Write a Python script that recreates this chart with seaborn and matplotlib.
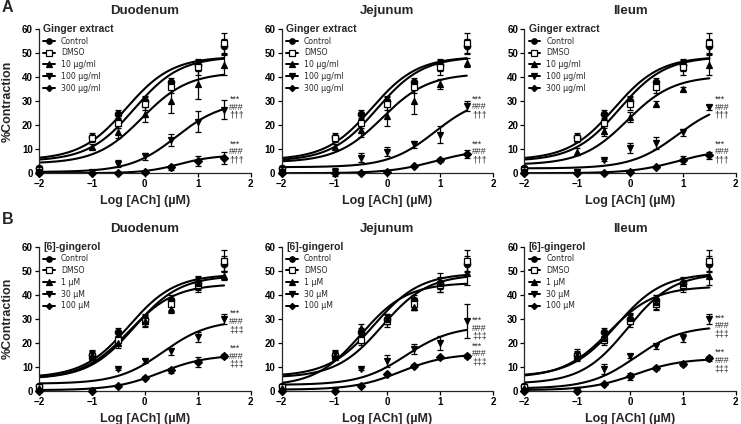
import numpy as np
import pandas as pd
import matplotlib
matplotlib.use("Agg")
import matplotlib.pyplot as plt
from matplotlib.lines import Line2D
import seaborn as sns

# ---------------- data ----------------
LOG_ACH = [-2, -1, -0.5, 0, 0.5, 1, 1.5]
X_TICKS = [-2, -1, 0, 1, 2]
Y_TICKS = [0, 10, 20, 30, 40, 50, 60]
TISSUES = ["Duodenum", "Jejunum", "Ileum"]
GINGER_LABELS = ["Control", "DMSO", "10 µg/ml", "100 µg/ml", "300 µg/ml"]
GINGEROL_LABELS = ["Control", "DMSO", "1 µM", "30 µM", "100 µM"]
ROW_TITLES = ["Ginger extract", "[6]-gingerol"]
ROW_LETTERS = ["A", "B"]
SIG_GINGER = "***\n###\n†††"
SIG_GINGEROL = "***\n###\n‡‡‡"

control_mean = [2.0, 15.0, 24.5, 30.0, 38.0, 45.0, 53.0]
control_sem = [0.8, 1.8, 1.8, 2.0, 1.8, 2.5, 3.0]
dmso_mean = [1.5, 14.5, 21.0, 29.0, 36.0, 44.0, 54.0]
dmso_sem = [0.8, 1.5, 2.0, 2.5, 2.5, 3.0, 4.5]

# Ginger extract - duodenum
ge_duo_10 = [1.0, 11.0, 17.0, 24.5, 30.0, 37.0, 45.0]
ge_duo_10_sem = [0.5, 1.0, 2.5, 3.0, 5.0, 6.0, 4.0]
ge_duo_100 = [0.5, 0.3, 4.0, 7.0, 14.0, 21.5, 26.5]
ge_duo_100_sem = [0.3, 0.3, 1.5, 1.5, 2.5, 4.5, 4.0]
ge_duo_300 = [0.0, 0.0, 0.0, 0.3, 2.5, 5.0, 6.5]
ge_duo_300_sem = [0.2, 0.2, 0.3, 0.5, 1.0, 2.0, 2.5]
ge_duo_bottom = [5.5, 5.0, 4.0, 0.5, 0.0]
ge_duo_top = [48.5, 48.5, 42.0, 30.0, 7.5]
ge_duo_logec50 = [-0.35, -0.2, -0.05, 0.6, 0.65]
ge_duo_hill = [1.0, 1.0, 1.0, 1.0, 1.3]

# Ginger extract - jejunum
ge_jej_10 = [1.5, 11.0, 18.0, 24.0, 30.0, 37.0, 46.0]
ge_jej_10_sem = [0.5, 1.0, 3.0, 4.5, 5.5, 2.0, 2.0]
ge_jej_100 = [0.5, 0.5, 6.5, 9.0, 12.0, 16.0, 28.0]
ge_jej_100_sem = [0.3, 1.5, 2.0, 2.0, 1.5, 3.5, 2.0]
ge_jej_300 = [0.0, 0.0, 0.0, 0.5, 3.0, 5.5, 8.0]
ge_jej_300_sem = [0.2, 0.2, 0.2, 0.5, 0.5, 1.0, 1.5]
ge_jej_bottom = [5.5, 5.0, 4.5, 2.5, 0.0]
ge_jej_top = [48.5, 48.5, 41.5, 32.0, 10.0]
ge_jej_logec50 = [-0.3, -0.2, -0.1, 0.9, 0.9]
ge_jej_hill = [1.0, 1.0, 1.0, 1.0, 1.0]

# Ginger extract - ileum
ge_ile_10 = [1.0, 9.0, 17.5, 23.5, 29.0, 35.0, 45.0]
ge_ile_10_sem = [0.5, 1.5, 2.0, 2.0, 1.0, 1.0, 4.0]
ge_ile_100 = [0.5, 0.5, 5.5, 10.5, 12.5, 17.0, 27.5]
ge_ile_100_sem = [0.3, 1.0, 0.5, 2.0, 2.5, 1.5, 1.0]
ge_ile_300 = [0.0, 0.0, 0.0, 0.5, 2.5, 5.5, 7.5]
ge_ile_300_sem = [0.2, 0.2, 0.2, 0.5, 0.5, 1.5, 1.5]
ge_ile_bottom = [5.5, 5.0, 3.5, 2.0, 0.0]
ge_ile_top = [48.5, 48.5, 40.5, 30.0, 10.0]
ge_ile_logec50 = [-0.3, -0.2, -0.05, 0.9, 0.9]
ge_ile_hill = [1.0, 1.0, 1.0, 1.0, 1.0]

# [6]-gingerol - duodenum
g_duo_1 = [1.0, 15.0, 20.0, 29.0, 34.0, 45.0, 48.0]
g_duo_1_sem = [0.5, 2.0, 2.0, 2.0, 1.5, 3.0, 2.0]
g_duo_30 = [0.0, 0.0, 9.0, 12.5, 16.5, 22.5, 30.0]
g_duo_30_sem = [0.3, 0.3, 0.5, 0.8, 1.5, 2.0, 2.0]
g_duo_100 = [0.0, 0.0, 2.0, 5.5, 8.5, 12.0, 14.5]
g_duo_100_sem = [0.2, 0.2, 0.3, 0.5, 1.0, 2.0, 1.0]
g_duo_bottom = [5.5, 5.0, 5.0, 3.0, 0.3]
g_duo_top = [48.5, 48.0, 44.5, 29.5, 15.0]
g_duo_logec50 = [-0.3, -0.2, -0.3, 0.35, 0.3]
g_duo_hill = [1.0, 1.0, 1.0, 1.0, 1.0]

# [6]-gingerol - jejunum
g_jej_1 = [1.0, 15.0, 26.0, 30.0, 35.0, 45.0, 49.0]
g_jej_1_sem = [0.5, 2.0, 2.0, 2.0, 1.5, 4.0, 5.0]
g_jej_30 = [0.0, 0.5, 9.0, 12.5, 17.5, 20.0, 29.0]
g_jej_30_sem = [0.3, 0.5, 0.5, 2.5, 2.0, 3.0, 7.0]
g_jej_100 = [0.0, 0.0, 2.0, 7.0, 10.5, 14.0, 14.5]
g_jej_100_sem = [0.2, 0.2, 0.3, 0.5, 0.5, 0.5, 0.8]
g_jej_bottom = [6.0, 5.5, 2.0, 2.5, 0.5]
g_jej_top = [49.0, 48.5, 45.0, 27.0, 15.5]
g_jej_logec50 = [-0.25, -0.1, -0.5, 0.35, 0.25]
g_jej_hill = [1.0, 1.0, 1.0, 1.0, 1.0]

# [6]-gingerol - ileum
g_ile_1 = [1.0, 15.0, 22.0, 30.5, 37.0, 45.0, 48.0]
g_ile_1_sem = [0.5, 2.5, 2.0, 2.0, 3.0, 2.0, 4.0]
g_ile_30 = [0.0, 0.5, 9.0, 14.5, 18.5, 22.0, 30.0]
g_ile_30_sem = [0.3, 0.3, 2.0, 1.0, 1.0, 1.5, 2.0]
g_ile_100 = [0.0, 0.0, 3.0, 6.0, 9.5, 11.0, 13.5]
g_ile_100_sem = [0.2, 0.2, 0.3, 1.5, 1.0, 0.5, 1.0]
g_ile_bottom = [6.0, 3.0, 5.5, 1.0, 0.3]
g_ile_top = [49.0, 49.0, 43.5, 27.0, 13.5]
g_ile_logec50 = [-0.25, -0.05, -0.4, 0.1, 0.1]
g_ile_hill = [1.0, 1.0, 1.0, 1.0, 1.0]

# y of the middle line of the significance labels (upper, lower) per panel
sig_y_ginger = [[27.4, 8.9], [27.6, 8.9], [27.4, 8.9]]
sig_y_gingerol = [[28.8, 14.5], [26.0, 15.4], [27.1, 12.6]]

# ---------------- assemble ----------------
panels = [
    [  # row A
        dict(means=[control_mean, dmso_mean, ge_duo_10, ge_duo_100, ge_duo_300],
             sems=[control_sem, dmso_sem, ge_duo_10_sem, ge_duo_100_sem, ge_duo_300_sem],
             fit=(ge_duo_bottom, ge_duo_top, ge_duo_logec50, ge_duo_hill)),
        dict(means=[control_mean, dmso_mean, ge_jej_10, ge_jej_100, ge_jej_300],
             sems=[control_sem, dmso_sem, ge_jej_10_sem, ge_jej_100_sem, ge_jej_300_sem],
             fit=(ge_jej_bottom, ge_jej_top, ge_jej_logec50, ge_jej_hill)),
        dict(means=[control_mean, dmso_mean, ge_ile_10, ge_ile_100, ge_ile_300],
             sems=[control_sem, dmso_sem, ge_ile_10_sem, ge_ile_100_sem, ge_ile_300_sem],
             fit=(ge_ile_bottom, ge_ile_top, ge_ile_logec50, ge_ile_hill)),
    ],
    [  # row B
        dict(means=[control_mean, dmso_mean, g_duo_1, g_duo_30, g_duo_100],
             sems=[control_sem, dmso_sem, g_duo_1_sem, g_duo_30_sem, g_duo_100_sem],
             fit=(g_duo_bottom, g_duo_top, g_duo_logec50, g_duo_hill)),
        dict(means=[control_mean, dmso_mean, g_jej_1, g_jej_30, g_jej_100],
             sems=[control_sem, dmso_sem, g_jej_1_sem, g_jej_30_sem, g_jej_100_sem],
             fit=(g_jej_bottom, g_jej_top, g_jej_logec50, g_jej_hill)),
        dict(means=[control_mean, dmso_mean, g_ile_1, g_ile_30, g_ile_100],
             sems=[control_sem, dmso_sem, g_ile_1_sem, g_ile_30_sem, g_ile_100_sem],
             fit=(g_ile_bottom, g_ile_top, g_ile_logec50, g_ile_hill)),
    ],
]
row_labels = [GINGER_LABELS, GINGEROL_LABELS]
row_sig = [SIG_GINGER, SIG_GINGEROL]
row_sig_y = [sig_y_ginger, sig_y_gingerol]

# ---------------- style ----------------
sns.set_theme(style="ticks")
plt.rcParams["font.family"] = ["Liberation Sans", "DejaVu Sans"]
plt.rcParams["axes.linewidth"] = 0.9

MARKERS = ["o", "s", "^", "v", "D"]
MSIZES = [4.6, 4.6, 4.8, 4.8, 3.7]
FACES = ["black", "white", "black", "black", "black"]

W, H = 741, 424
fig = plt.figure(figsize=(W / 100, H / 100), dpi=100)

col_left_px = [39, 281.7, 524.3]
ax_w_px = 211.5
row_top_px = [29, 246.7]
ax_h_px = 144.2

xgrid = np.linspace(-2, 1.5, 200)

for r in range(2):
    for c in range(3):
        left = col_left_px[c] / W
        bottom = 1 - (row_top_px[r] + ax_h_px) / H
        ax = fig.add_axes([left, bottom, ax_w_px / W, ax_h_px / H])
        p = panels[r][c]
        bots, tops, ecs, hills = p["fit"]
        for i in range(5):
            yfit = bots[i] + (tops[i] - bots[i]) / (
                1 + 10 ** ((ecs[i] - xgrid) * hills[i]))
            df = pd.DataFrame({"x": xgrid, "y": yfit})
            sns.lineplot(data=df, x="x", y="y", ax=ax, color="black",
                         linewidth=1.5, legend=False, zorder=2)
        for i in range(5):
            ax.errorbar(LOG_ACH, p["means"][i], yerr=p["sems"][i], fmt="none",
                        ecolor="black", elinewidth=0.9, capsize=2.4,
                        capthick=0.9, zorder=3, clip_on=False)
            ax.plot(LOG_ACH, p["means"][i], linestyle="none",
                    marker=MARKERS[i], markersize=MSIZES[i],
                    markerfacecolor=FACES[i], markeredgecolor="black",
                    markeredgewidth=0.9, zorder=4, clip_on=False)
        ax.set_xlim(-2, 2)
        ax.set_ylim(0, 60)
        ax.set_xticks(X_TICKS)
        ax.set_yticks(Y_TICKS)
        ax.tick_params(axis="both", direction="out", length=3, width=0.9,
                       labelsize=7, pad=1.5, colors="black")
        for lab in ax.get_xticklabels() + ax.get_yticklabels():
            lab.set_fontweight("bold")
        sns.despine(ax=ax)
        ax.set_xlabel("Log [ACh] (µM)", fontsize=9, fontweight="bold",
                      labelpad=4)
        if c == 0:
            ax.set_ylabel("%Contraction", fontsize=9, fontweight="bold",
                          labelpad=6)
        else:
            ax.set_ylabel("")
        ax.text(0.5, 1 + 18 / ax_h_px, TISSUES[c], transform=ax.transAxes,
                ha="center", va="center", fontsize=9.5, fontweight="bold")

        handles = [Line2D([0], [0], color="black", lw=1.4, marker=MARKERS[i],
                          markersize=MSIZES[i] * 0.85,
                          markerfacecolor=FACES[i], markeredgecolor="black",
                          markeredgewidth=0.9)
                   for i in range(5)]
        ax.legend(handles, row_labels[r], title=ROW_TITLES[r],
                  loc="upper left", bbox_to_anchor=(0.02, 1.035),
                  frameon=False, borderpad=0, borderaxespad=0,
                  handlelength=1.5, handletextpad=0.8,
                  labelspacing=0.35,
                  prop={"family": "DejaVu Sans", "size": 5.6},
                  title_fontproperties={"family": "Liberation Sans",
                                        "weight": "bold", "size": 7.5},
                  alignment="left")
        for sy in row_sig_y[r][c]:
            ax.text(1.6, sy, row_sig[r], ha="left", va="center",
                    fontsize=6.3, linespacing=0.85,
                    family=["Liberation Sans", "DejaVu Sans"])

fig.text(2 / W, 1 - 8 / H, ROW_LETTERS[0], fontsize=11.5, fontweight="bold",
         ha="left", va="center")
fig.text(2 / W, 1 - 220 / H, ROW_LETTERS[1], fontsize=11.5, fontweight="bold",
         ha="left", va="center")

fig.savefig("out.png", dpi=100)
